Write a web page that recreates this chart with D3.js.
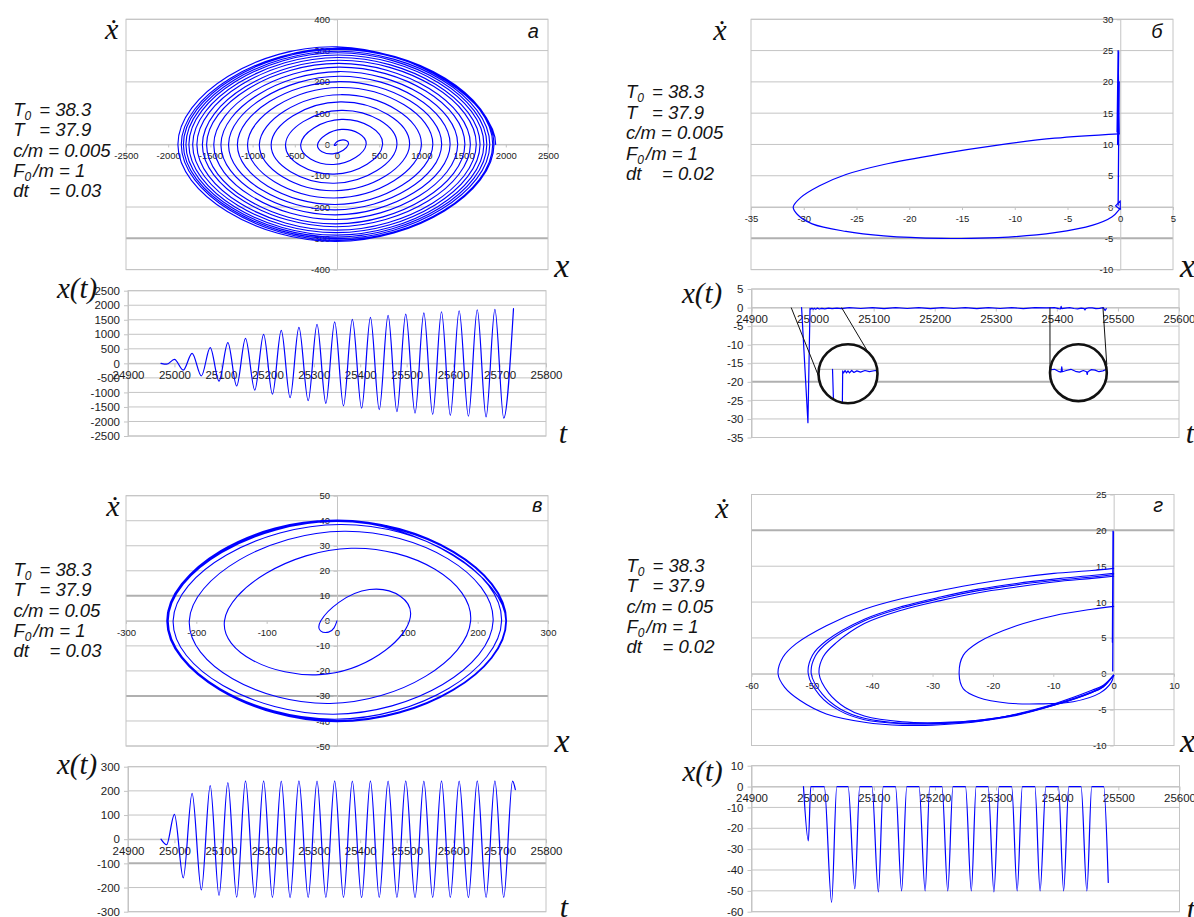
<!DOCTYPE html>
<html>
<head>
<meta charset="utf-8">
<script src="https://cdn.jsdelivr.net/npm/d3@7/dist/d3.min.js"></script>
<style>
  html, body { margin: 0; padding: 0; background: #ffffff; }
  svg { display: block; }
</style>
</head>
<body>
<svg id="fig" width="1194" height="917"></svg>
<script>
// ---------- tick values ----------
const phaseTicksAx = [-2500, -2000, -1500, -1000, -500, 0, 500, 1000, 1500, 2000, 2500];
const phaseTicksAv = [-400, -300, -200, -100, 0, 100, 200, 300, 400];
const phaseTicksBx = [-35, -30, -25, -20, -15, -10, -5, 0, 5];
const phaseTicksBv = [-10, -5, 0, 5, 10, 15, 20, 25, 30];
const phaseTicksVx = [-300, -200, -100, 0, 100, 200, 300];
const phaseTicksVv = [-50, -40, -30, -20, -10, 0, 10, 20, 30, 40, 50];
const phaseTicksGx = [-60, -50, -40, -30, -20, -10, 0, 10];
const phaseTicksGv = [-10, -5, 0, 5, 10, 15, 20, 25];
const timeTicksLong = [24900, 25000, 25100, 25200, 25300, 25400, 25500, 25600, 25700, 25800];
const timeTicksShort = [24900, 25000, 25100, 25200, 25300, 25400, 25500, 25600];
const xtTicksA = [-2500, -2000, -1500, -1000, -500, 0, 500, 1000, 1500, 2000, 2500];
const xtTicksB = [5, 0, -5, -10, -15, -20, -25, -30, -35];
const xtTicksV = [-300, -200, -100, 0, 100, 200, 300];
const xtTicksG = [10, 0, -10, -20, -30, -40, -50, -60];

// ---------- parameter captions ----------
const paramsA = ["38.3", "37.9", "0.005", "1", "0.03"];
const paramsB = ["38.3", "37.9", "0.005", "1", "0.02"];
const paramsV = ["38.3", "37.9", "0.05", "1", "0.03"];
const paramsG = ["38.3", "37.9", "0.05", "1", "0.02"];
const panelLetters = ["а", "б", "в", "г"];

// ---------- panel а: turning points of x(t) and velocity peaks ----------
const tA = [24971, 24983, 25000, 25019, 25038, 25058, 25077, 25096, 25115, 25134, 25153, 25173, 25192, 25211,
  25230, 25249, 25268, 25288, 25307, 25326, 25345, 25364, 25383, 25403, 25422, 25441, 25460, 25479, 25498,
  25518, 25537, 25556, 25575, 25594, 25613, 25633, 25652, 25671, 25690, 25709, 25730];
const xA = [0, -30, 135, -230, 345, -430, 540, -610, 710, -780, 860, -920, 1000, -1060, 1135, -1180, 1240,
  -1285, 1340, -1375, 1430, -1460, 1515, -1545, 1580, -1595, 1650, -1660, 1695, -1710, 1740, -1755, 1775,
  -1790, 1810, -1820, 1845, -1845, 1860, -1885, 1880];
const vA = [-2.5, 14, -30, 48, -64, 80, -95, 109, -124, 136, -148, 159, -171, 182, -192, 201, -209, 218, -225,
  233, -240, 247, -254, 259, -263, 269, -274, 278, -282, 286, -290, 293, -296, 298, -301, 304, -306, 307, -310, 312];
const vAtA = [-15, 52, -47, 57, -42, 55, -35, 50, -35, 40, -30, 40, -30, 38, -22, 30, -22, 27, -17, 27, -15,
  27, -15, 17, -7, 27, -5, 17, -7, 15, -7, 10, -7, 10, -5, 12, 0, 7, -12, 0];

// ---------- panel в ----------
const tV = [24971, 24983, 25000, 25019, 25038, 25058, 25077, 25096, 25115, 25134, 25153, 25173, 25192, 25211,
  25230, 25249, 25268, 25288, 25307, 25326, 25345, 25364, 25383, 25403, 25422, 25441, 25460, 25479, 25498,
  25518, 25537, 25556, 25575, 25594, 25613, 25633, 25652, 25671, 25690, 25709, 25728, 25734];
const xV = [0, -23, 103, -160, 190, -210, 222, -233, 234, -240, 241, -242, 241, -241, 240, -242, 241, -241,
  240, -241, 241, -241, 240, -242, 241, -241, 240, -241, 241, -242, 240, -241, 241, -241, 240, -242, 241,
  -241, 241, -241, 240, 205];
const vV = [-4.5, 12.5, -21.5, 29, -33, 35.8, -37.3, 38.5, -39.3, 39.8, -40.1, 40.2, -39.8, 40, -40.3, 39.7,
  -40, 40.1, -39.9, 40.3, -40.1, 39.8, -40.2, 40, -39.9, 40.2, -40.1, 39.8, -40.3, 40, -39.9, 40.1, -40.2,
  39.9, -40.1, 40.2, -39.8, 40, -40.2, 40.1];
const vAtV = [-12, 46, -25, 20, -10, 10, -5, 5, -3, 2, -1, 1, 0, 0, 0, 0, 0, 0, 0, 0, 0, 0, 0, 0, 0, 0, 0, 0,
  0, 0, 0, 0, 0, 0, 0, 0, 0, 0, 0, 0];

// ---------- panel б ----------
const loopBX = [-0.1, -0.8, -2.6, -6.2, -11.6, -17, -22.4, -26, -29.2, -30.6, -31.0, -30.3, -28.5, -26,
  -22.4, -17, -11.6, -6.2, -0.1];
const loopBV = [-0.4, -1.6, -2.9, -4.1, -4.9, -5.0, -4.6, -3.9, -2.7, -1.2, 0, 1.5, 3.4, 5.2, 6.8, 8.5, 9.9,
  11.0, 11.7];
const impactBX = [-0.1, -0.2, -0.3, -0.15, -0.25, -0.1, -0.2];
const impactBV = [11.7, 25, 12, 24.8, 10, 20, 0.3];
const tinyBX = [0, -0.45, 0, 0];
const tinyBV = [-0.4, 0.2, 1.0, -0.4];
const tB = [24982, 24992.4, 24995.8, 24997, 24999, 25001, 25003, 25005, 25008, 25011, 25015, 25020, 25026,
  25032, 25040, 25047, 25060, 25079, 25098, 25117, 25136, 25155, 25174, 25193, 25212, 25231, 25250, 25269,
  25288, 25307, 25326, 25345, 25364, 25383, 25396, 25403, 25406, 25407, 25408, 25414, 25421, 25428, 25434,
  25440, 25445, 25446, 25447, 25452, 25458, 25464, 25470, 25476, 25479, 25481];
const xB = [0, -31, -0.2, -0.45, -0.15, -0.45, -0.2, -0.45, -0.15, -0.4, -0.2, -0.35, -0.15, -0.3, -0.15,
  -0.3, 0, -0.25, 0, -0.3, 0, -0.25, 0, -0.3, 0, -0.25, 0, -0.3, 0, -0.25, 0, -0.3, 0, -0.1, 0, -0.3, -0.35,
  0.3, -0.3, -0.15, 0, -0.25, -0.35, -0.15, -0.3, -0.65, -0.3, -0.05, -0.1, -0.3, -0.2, 0, -0.8, -0.3];

// ---------- panel г ----------
const gInnerX = [0, -0.4, -2.3, -6.7, -12.4, -17.4, -22.4, -24.9, -25.6, -24.9, -22.4, -16.1, -9.9, -3.6, 0];
const gInnerV = [-0.2, -1.2, -2.7, -3.9, -4.2, -4.1, -3.3, -2.1, 0, 2.6, 4.4, 6.7, 8.1, 9.0, 9.4];
const gOuterX = [0, -1.7, -3.6, -9.9, -16.1, -22.4, -28.7, -35, -41.3, -47.6, -52, -54.5, -55.6, -54.8, -52.6,
  -47.6, -41.3, -35, -28.7, -22.4, -16.1, -9.9, -3.6, 0];
const gOuterV = [-0.2, -1.6, -2.3, -4.2, -5.6, -6.65, -7.1, -7.2, -6.75, -5.6, -3.7, -1.9, 0, 2.3, 4.2, 6.7,
  9.0, 10.5, 11.6, 12.6, 13.4, 14.0, 14.4, 14.7];
const gLoop1X = [0, -1.7, -3.6, -9.9, -16.1, -22.4, -28.7, -35, -41.3, -45.5, -48.7, -50.6, -49.9, -47.6,
  -41.3, -35, -28.7, -22.4, -16.1, -9.9, -3.6, 0];
const gLoop1V = [-0.2, -1.7, -2.5, -4.3, -5.7, -6.5, -6.9, -6.95, -6.4, -5.1, -3.0, 0, 2.6, 4.6, 7.6, 9.4,
  10.7, 11.8, 12.6, 13.2, 13.7, 14.0];
const gLoop2X = [0, -1.7, -3.6, -9.9, -16.1, -22.4, -28.7, -35, -41.3, -45.3, -48.3, -50.1, -49.4, -47.2,
  -41.3, -35, -28.7, -22.4, -16.1, -9.9, -3.6, 0];
const gLoop2V = [-0.2, -1.8, -2.6, -4.4, -5.8, -6.6, -6.95, -6.9, -6.2, -4.9, -2.8, 0, 2.5, 4.5, 7.4, 9.2,
  10.5, 11.6, 12.4, 13.0, 13.5, 13.8];
const gLoop3X = [0, -1.7, -3.6, -9.9, -16.1, -22.4, -28.7, -35, -41.3, -44.5, -47.2, -48.8, -48.1, -46,
  -41.3, -35, -28.7, -22.4, -16.1, -9.9, -3.6, 0];
const gLoop3V = [-0.2, -1.8, -2.6, -4.4, -5.7, -6.5, -6.8, -6.7, -5.9, -4.7, -2.7, 0, 2.4, 4.3, 7.0, 8.9,
  10.2, 11.3, 12.1, 12.8, 13.3, 13.6];
const impactGX = [-0.1, -0.1, -0.2, -0.05, -0.15];
const impactGV = [14.7, 19.9, 4.4, 19.8, 0.4];
const tG = [24985, 24993, 24997, 25019, 25031, 25039.5, 25058, 25069, 25077, 25097, 25107.5, 25115.5,
  25135.5, 25145.5, 25154, 25174, 25184, 25191.5, 25211.5, 25221, 25229.5, 25250, 25259.5, 25267.5, 25287,
  25296.5, 25305, 25325.5, 25334.5, 25343, 25363.5, 25372, 25381.5, 25402, 25410.5, 25419, 25439, 25448.5,
  25456.5, 25476, 25483.5];
const xG = [0, -26, 0, 0, -55.5, 0, 0, -49, 0, 0, -50.5, 0, 0, -50, 0, 0, -50, 0, 0, -50, 0, 0, -50, 0, 0,
  -50.5, 0, 0, -50, 0, 0, -50, 0, 0, -50, 0, 0, -50, 0, 0, -46];

// ---------- drawing helpers ----------
const svg = d3.select("#fig");
const BLUE = "#0000ff";
const GRID = "#c4c4c4";
const GRID_HEAVY = "#b0b0b0";
const SANS = "'Liberation Sans', Arial, sans-serif";
const SERIF = "'Liberation Serif', 'Times New Roman', serif";
const zip = (a, b) => a.map((v, i) => [v, b[i]]);

// plot frame: horizontal grid, border, axes through zero
function frame(box, xDom, yDom, xTicks, yTicks, heavy, phase) {
  const [L, R, T, B] = box;
  const x = d3.scaleLinear().domain(xDom).range([L, R]);
  const y = d3.scaleLinear().domain(yDom).range([B, T]);
  const g = svg.append("g");
  g.append("g").selectAll("line").data(yTicks).join("line")
    .attr("x1", L).attr("x2", R)
    .attr("y1", d => y(d)).attr("y2", d => y(d))
    .attr("stroke", d => heavy.includes(d) ? GRID_HEAVY : GRID)
    .attr("stroke-width", d => heavy.includes(d) ? 2 : 1);
  g.append("rect").attr("x", L).attr("y", T).attr("width", R - L).attr("height", B - T)
    .attr("fill", "none").attr("stroke", GRID);
  const fs = phase ? 9.5 : 11.5;
  const fmt = d => String(d);
  const yAxis = g.append("g")
    .attr("transform", `translate(${phase ? x(0) : L},0)`)
    .call(d3.axisLeft(y).tickValues(yTicks).tickFormat(fmt)
      .tickSizeInner(phase ? 3.5 : 4).tickSizeOuter(0).tickPadding(phase ? 3.5 : 4));
  const xAxis = g.append("g")
    .attr("transform", `translate(0,${y(0)})`)
    .call(d3.axisBottom(x).tickValues(xTicks).tickFormat(fmt)
      .tickSizeInner(phase ? 3 : 4).tickSizeOuter(0).tickPadding(phase ? 5 : 3.5));
  [yAxis, xAxis].forEach(a => {
    a.attr("font-family", SANS).attr("font-size", fs);
    a.select(".domain").attr("stroke", GRID);
    a.selectAll(".tick line").attr("stroke", GRID);
    a.selectAll(".tick text").attr("fill", "#1c1c1c");
  });
  return { x, y, g };
}

function styled(sel, w) {
  return sel.attr("fill", "none").attr("stroke", BLUE).attr("stroke-width", w || 1.2)
    .attr("stroke-linejoin", "round").attr("stroke-linecap", "round");
}

function curve(g, pts, sx, sy, c, w) {
  return styled(g.append("path").datum(pts), w)
    .attr("d", d3.line().x(d => sx(d[0])).y(d => sy(d[1])).curve(c));
}

// d3.line output recorded segment by segment, so trailing segments can be left out
function tracePath(pts, sx, sy, c, dropLast) {
  const segs = [];
  const rec = {
    moveTo(x, y) { segs.push(`M${x},${y}`); },
    lineTo(x, y) { segs.push(`L${x},${y}`); },
    bezierCurveTo(a, b, c2, d, e, f) { segs.push(`C${a},${b},${c2},${d},${e},${f}`); },
    closePath() { segs.push("Z"); }
  };
  d3.line().x(d => sx(d[0])).y(d => sy(d[1])).curve(c).context(rec)(pts);
  return segs.slice(0, segs.length - dropLast).join("");
}

// phase-plane path: turning points on the x axis, velocity peaks between them
function spiral(xTurn, vPeak, vAt) {
  const pts = [[xTurn[0], 0]];
  vPeak.forEach((v, i) => { pts.push([vAt[i], v]); pts.push([xTurn[i + 1], 0]); });
  return pts;
}

// spiral drawn with a mirrored tangent guide after the last turning point (guide segment not drawn)
function drawSpiral(g, pts, sx, sy, w) {
  const prev = pts[pts.length - 2];
  const guided = pts.concat([[prev[0], -prev[1]]]);
  styled(g.append("path"), w).attr("d", tracePath(guided, sx, sy, d3.curveNatural, 1));
}

function serifLabel(txt, x, y, size) {
  svg.append("text").attr("x", x).attr("y", y).attr("text-anchor", "middle")
    .attr("font-family", SERIF).attr("font-style", "italic")
    .attr("font-size", size).attr("fill", "#111").text(txt);
}

function paramBlock(x0, base, vals) {
  const g = svg.append("g").attr("font-family", SANS).attr("font-style", "italic")
    .attr("font-size", 18.5).attr("fill", "#141414");
  const lh = 20.4;
  const l1 = g.append("text").attr("x", x0).attr("y", base);
  l1.append("tspan").text("T");
  l1.append("tspan").attr("font-size", 12).attr("dy", 4).text("0");
  l1.append("tspan").attr("x", x0 + 26).attr("dy", -4).text("= " + vals[0]);
  const l2 = g.append("text").attr("x", x0).attr("y", base + lh);
  l2.append("tspan").text("T");
  l2.append("tspan").attr("x", x0 + 26).text("= " + vals[1]);
  g.append("text").attr("x", x0).attr("y", base + 2 * lh).text("c/m = " + vals[2]);
  const l4 = g.append("text").attr("x", x0).attr("y", base + 3 * lh);
  l4.append("tspan").text("F");
  l4.append("tspan").attr("font-size", 12).attr("dy", 4).text("0");
  l4.append("tspan").attr("dy", -4).attr("dx", 2).text("/m = " + vals[3]);
  const l5 = g.append("text").attr("x", x0).attr("y", base + 4 * lh);
  l5.append("tspan").text("dt");
  l5.append("tspan").attr("x", x0 + 36).text("= " + vals[4]);
}

function panelLetter(txt, x, y) {
  svg.append("text").attr("x", x).attr("y", y).attr("text-anchor", "middle")
    .attr("font-family", SANS).attr("font-style", "italic").attr("font-size", 20)
    .attr("fill", "#111").text(txt);
}

// ---------- panel а ----------
const pa = frame([126, 548, 19.3, 269.6], [-2500, 2500], [-400, 400], phaseTicksAx, phaseTicksAv, [-300], true);
drawSpiral(pa.g, spiral(xA, vA, vAtA), pa.x, pa.y, 1.15);
const ta = frame([128, 546, 290.7, 436], [24900, 25800], [-2500, 2500], timeTicksLong, xtTicksA, [], false);
curve(ta.g, zip(tA, xA), ta.x, ta.y, d3.curveMonotoneX, 1.2);

// ---------- panel б ----------
const pb = frame([751, 1173, 19.3, 269.6], [-35, 5], [-10, 30], phaseTicksBx, phaseTicksBv, [-5], true);
curve(pb.g, zip(loopBX, loopBV), pb.x, pb.y, d3.curveCatmullRom.alpha(0.5), 1.2);
curve(pb.g, zip(impactBX, impactBV), pb.x, pb.y, d3.curveLinear, 1.3);
curve(pb.g, zip(tinyBX, tinyBV), pb.x, pb.y, d3.curveLinear, 1.1);
const tb = frame([751.5, 1179, 289, 437.5], [24900, 25600], [-35, 5], timeTicksShort, xtTicksB, [-20], false);
const seriesB = zip(tB, xB);
curve(tb.g, seriesB, tb.x, tb.y, d3.curveLinear, 1.2);

// magnifier insets on the x(t) trace
const insets = [
  { cx: 848, cy: 373.8, r: 29.5, t0: 24963, t1: 25043, zeroY: 369.3, lead: [24965, 25047.5], ends: [[818.5, 376], [869.5, 354.5]] },
  { cx: 1078.4, cy: 372.7, r: 28.4, t0: 25389, t1: 25476, zeroY: 369.3, lead: [25388.7, 25475.5], ends: [[1050, 376.7], [1106.8, 365]] }
];
const defs = svg.append("defs");
insets.forEach((m, k) => {
  m.lead.forEach((t, j) => {
    svg.append("line").attr("x1", tb.x(t)).attr("y1", tb.y(0))
      .attr("x2", m.ends[j][0]).attr("y2", m.ends[j][1])
      .attr("stroke", "#111").attr("stroke-width", 1);
  });
  defs.append("clipPath").attr("id", "lens" + k)
    .append("circle").attr("cx", m.cx).attr("cy", m.cy).attr("r", m.r);
  svg.append("circle").attr("cx", m.cx).attr("cy", m.cy).attr("r", m.r).attr("fill", "#fff");
  const ix = d3.scaleLinear().domain([m.t0, m.t1]).range([m.cx - m.r, m.cx + m.r]);
  const iy = d3.scaleLinear().domain([0, -1]).range([m.zeroY, m.zeroY + 8]);
  const lg = svg.append("g").attr("clip-path", `url(#lens${k})`);
  lg.append("line").attr("x1", m.cx - m.r).attr("x2", m.cx + m.r)
    .attr("y1", m.zeroY).attr("y2", m.zeroY).attr("stroke", GRID).attr("stroke-width", 1.2);
  curve(lg, seriesB.filter(d => d[0] >= m.t0 - 15 && d[0] <= m.t1 + 15), ix, iy, d3.curveLinear, 1.2);
  svg.append("circle").attr("cx", m.cx).attr("cy", m.cy).attr("r", m.r)
    .attr("fill", "none").attr("stroke", "#111").attr("stroke-width", 2.6);
});

// ---------- panel в ----------
const pv = frame([126, 548, 495.7, 746], [-300, 300], [-50, 50], phaseTicksVx, phaseTicksVv, [10, -30], true);
drawSpiral(pv.g, spiral(xV.slice(0, 41), vV, vAtV), pv.x, pv.y, 1.1);
const tv = frame([128, 546, 766.7, 911.7], [24900, 25800], [-300, 300], timeTicksLong, xtTicksV, [-100], false);
curve(tv.g, zip(tV, xV), tv.x, tv.y, d3.curveMonotoneX, 1.2);

// ---------- panel г ----------
const pg = frame([751.5, 1174, 494.5, 745.5], [-60, 10], [-10, 25], phaseTicksGx, phaseTicksGv, [20], true);
[[gInnerX, gInnerV], [gOuterX, gOuterV], [gLoop1X, gLoop1V], [gLoop2X, gLoop2V], [gLoop3X, gLoop3V]]
  .forEach(([lx, lv]) => curve(pg.g, zip(lx, lv), pg.x, pg.y, d3.curveCatmullRom.alpha(0.5), 1.1));
curve(pg.g, zip(impactGX, impactGV), pg.x, pg.y, d3.curveLinear, 1.3);
const tg = frame([751.5, 1179.5, 765.7, 911.7], [24900, 25600], [-60, 10], timeTicksShort, xtTicksG, [], false);
curve(tg.g, zip(tG, xG), tg.x, tg.y, d3.curveMonotoneX, 1.2);

// ---------- captions and axis names ----------
paramBlock(13.3, 115.7, paramsA);
paramBlock(626, 98.3, paramsB);
paramBlock(13.5, 575.7, paramsV);
paramBlock(626.5, 571.7, paramsG);

panelLetter(panelLetters[0], 533.3, 38.3);
panelLetter(panelLetters[1], 1156.8, 38.3);
panelLetter(panelLetters[2], 537.3, 512.3);
panelLetter(panelLetters[3], 1158.2, 512.3);

[[111.7, 39], [720, 40], [113, 516], [722, 517.5]].forEach(p => serifLabel("ẋ", p[0], p[1], 30));
[[561.7, 276.7], [1187.5, 276.7], [562, 752], [1187.5, 752]].forEach(p => serifLabel("x", p[0], p[1], 34));
[[77, 298], [702, 303], [77, 774], [702.5, 781]].forEach(p => serifLabel("x(t)", p[0], p[1], 29));
[[563, 443], [1190, 443], [564, 917], [1191, 919]].forEach(p => serifLabel("t", p[0], p[1], 30));
</script>
</body>
</html>
